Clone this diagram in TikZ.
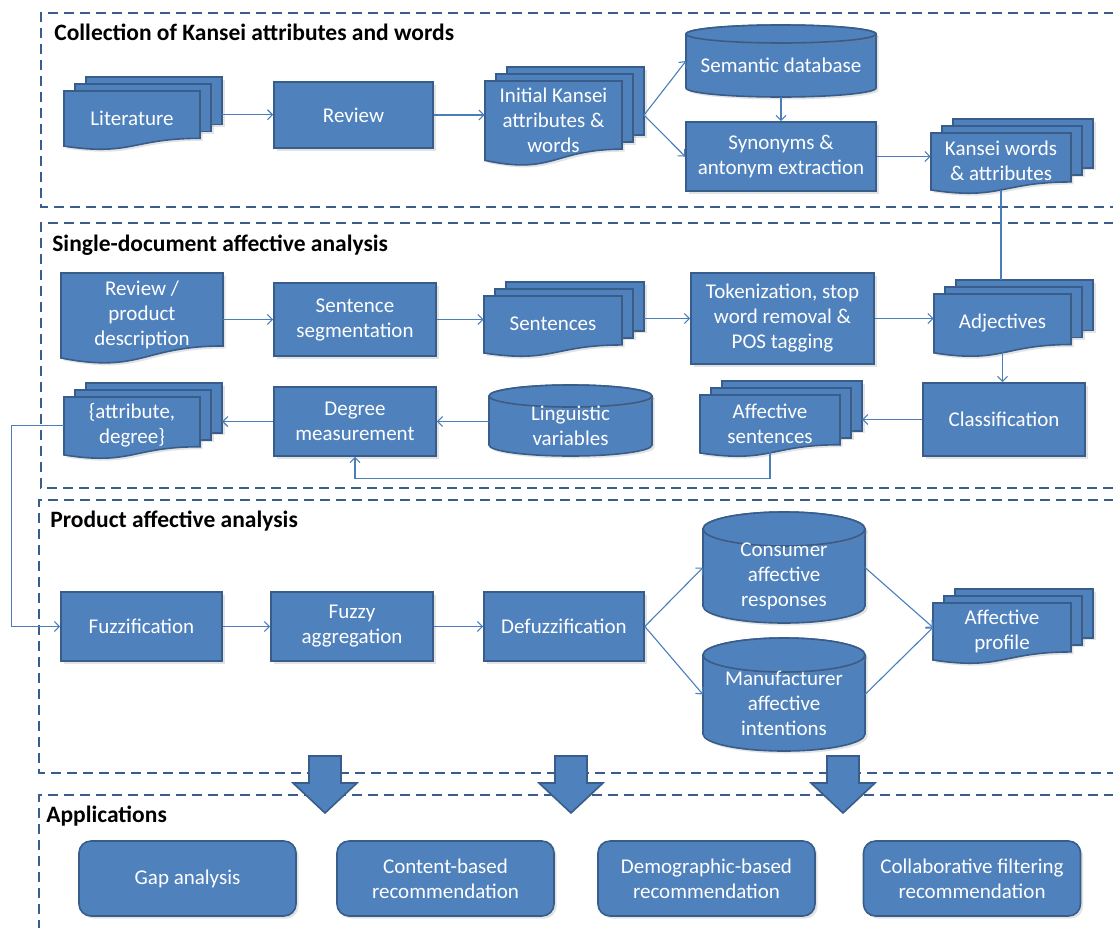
\documentclass[tikz,border=0pt]{standalone}
\usepackage{fontspec}
\setmainfont{Carlito}
\usetikzlibrary{arrows.meta, shadows}
\definecolor{boxblue}{HTML}{4F81BD}
\definecolor{boxline}{HTML}{385D8A}
\definecolor{linkblue}{HTML}{4A7EBB}
\definecolor{framecol}{HTML}{3A5E8C}
\newcommand{\boxtxt}{\fontsize{21}{25}\selectfont}
\newcommand{\headtxt}{\fontsize{23.5}{28}\selectfont\bfseries}
\tikzset{every picture/.style={line width=0.75pt}}
\tikzset{
  softshadow/.style={drop shadow={opacity=0.22, shadow xshift=2.5pt, shadow yshift=-2.5pt}},
  procbox/.style={rectangle, draw=boxline, line width=1.6pt, fill=boxblue, text=white, font=\boxtxt, align=center, inner sep=2pt, softshadow},
  appbox/.style={procbox, rounded corners=12pt, minimum width=217, minimum height=75},
  docline/.style={draw=boxline, line width=1.6pt, fill=boxblue, softshadow},
  doctext/.style={text=white, font=\boxtxt, align=center, inner sep=0pt},
  link/.style={draw=linkblue, line width=1.1pt, -{Straight Barb[length=5pt,width=10pt]}},
  plainlink/.style={draw=linkblue, line width=1.1pt},
  frame/.style={draw=framecol, line width=2.4pt, dash pattern=on 10pt off 6pt},
  title/.style={anchor=base west, font=\headtxt, text=black, inner sep=0pt},
  bigarrow/.style={draw=boxline, line width=1.6pt, fill=boxblue, line join=miter}
}
% one page with a wavy foot: left, top, width, height
\newcommand{\wavedoc}[4]{%
  \draw[docline] (#1,#2) -- (#1+#3,#2) -- (#1+#3,#2+0.802*#4)
    .. controls (#1+0.5*#3,#2+0.802*#4) and (#1+0.5*#3,#2+1.107*#4) .. (#1,#2+0.934*#4) -- cycle;}
% name, left, top, width, height, text
\newcommand{\docnode}[6]{%
  \wavedoc{#2}{#3}{#4}{#5}
  \node[doctext, minimum width=#4, minimum height=0.92*#5] (#1) at (#2+0.5*#4,#3+0.46*#5) {#6};}
% stack of three pages: name, left, top, width, height, text
\newcommand{\stackdoc}[6]{%
  \foreach \k in {2,1} {\draw[docline] (#2+11*\k,#3-7*\k) rectangle ++(#4,0.802*#5);}
  \wavedoc{#2}{#3}{#4}{#5}
  \node[doctext, minimum width=#4, minimum height=0.92*#5] (#1) at (#2+0.5*#4,#3+0.46*#5) {#6};
  \coordinate (#1-in) at (#2,#3+0.401*#5);
  \coordinate (#1-out) at (#2+#4+22,#3+0.401*#5);
  \coordinate (#1-top) at (#2+0.5*#4+22,#3-14);}
% database: name, left, top, width, height, cap radius, text
\newcommand{\dbnode}[7]{%
  \draw[docline] (#2,#3+#6) -- (#2,#3+#5-#6)
    arc[start angle=180, end angle=0, x radius=0.5*#4, y radius=#6] -- (#2+#4,#3+#6)
    arc[start angle=0, end angle=-180, x radius=0.5*#4, y radius=#6] -- cycle;
  \draw[docline, drop shadow={opacity=0}] (#2+0.5*#4,#3+#6) ellipse [x radius=0.5*#4, y radius=#6];
  \node[doctext, minimum width=#4, minimum height=#5-#6] (#1) at (#2+0.5*#4,#3+0.5*#5+0.5*#6) {#7};
  \coordinate (#1-w) at (#2,#3+0.5*#5);
  \coordinate (#1-e) at (#2+#4,#3+0.5*#5);}

\begin{document}
\begin{tikzpicture}[x=1pt,y=1pt,yscale=-1,xscale=1]
    \fill[white] (0,0) rectangle (1113,927);
    \clip (0,0) rectangle (1113,927);
    % frames
    \draw[frame] (1130,13) -- (41,13) -- (41,207) -- (1130,207);
    \draw[frame] (1130,223) -- (41,223) -- (41,488) -- (1130,488);
    \draw[frame] (1130,500) -- (39,500) -- (39,773) -- (1130,773);
    \draw[frame] (1130,795) -- (39,795) -- (39,940);
    \node[title] (head1) at (54,40) {Collection of Kansei attributes and words};
    \node[title] (head2) at (52,251) {Single-document affective analysis};
    \node[title] (head3) at (50,527) {Product affective analysis};
    \node[title] (head4) at (46,822) {Applications};
    % collection
    \stackdoc{lit}{64}{91}{136}{59}{Literature}
    \node[procbox, minimum width=159, minimum height=66] (rev) at (353.5,115) {Review};
    \stackdoc{init}{485}{81}{137}{85}{Initial Kansei\\attributes \&\\words}
    \dbnode{sem}{686}{25}{190}{72}{9}{Semantic database}
    \node[procbox, minimum width=190, minimum height=69] (syn) at (781,156.5) {Synonyms \&\\antonym extraction};
    \stackdoc{kw}{931}{133}{140}{61}{Kansei words\\\& attributes}
    % single document
    \docnode{desc}{61}{273}{162}{91}{Review /\\product\\description}
    \node[procbox, minimum width=162, minimum height=73] (seg) at (355,319.5) {Sentence\\segmentation};
    \stackdoc{sent}{484}{296}{138}{61}{Sentences}
    \node[procbox, minimum width=183, minimum height=91] (tok) at (782.5,318.5) {Tokenization, stop\\word removal \&\\POS tagging};
    \stackdoc{adj}{934}{294}{137}{63}{Adjectives}
    \stackdoc{attdeg}{64}{397}{136}{62}{\{attribute,\\degree\}}
    \node[procbox, minimum width=162, minimum height=69] (deg) at (355,421.5) {Degree\\measurement};
    \dbnode{ling}{489}{385}{163}{71}{11}{Linguistic\\variables}
    \stackdoc{affs}{700}{395}{140}{62}{Affective\\sentences}
    \node[procbox, minimum width=162, minimum height=73] (cls) at (1004,419.5) {Classification};
    % product
    \node[procbox, minimum width=161, minimum height=69] (fuzz) at (141.5,626.5) {Fuzzification};
    \node[procbox, minimum width=162, minimum height=69] (agg) at (352,626.5) {Fuzzy\\aggregation};
    \node[procbox, minimum width=160, minimum height=69] (defuzz) at (564,626.5) {Defuzzification};
    \dbnode{cons}{703}{512}{162}{111}{17}{Consumer\\affective\\responses}
    \dbnode{manu}{703}{638}{162}{113}{17}{Manufacturer\\affective\\intentions}
    \stackdoc{prof}{933}{603}{138}{61}{Affective\\profile}
    % applications
    \node[appbox] (gap) at (187.5,878.5) {Gap analysis};
    \node[appbox] (cbr) at (445.5,878.5) {Content-based\\recommendation};
    \node[appbox] (dbr) at (706.5,878.5) {Demographic-based\\recommendation};
    \node[appbox] (cfr) at (972,878.5) {Collaborative filtering\\recommendation};
    \foreach \cx in {325,571,843}
      \draw[bigarrow] (\cx-16,756) -- (\cx+16,756) -- (\cx+16,783) -- (\cx+32,783) -- (\cx,813) -- (\cx-32,783) -- (\cx-16,783) -- cycle;
    % connectors
    \draw[link] (lit-out) -- (lit-out -| rev.west);
    \draw[link] (rev.east) -- (rev.east -| init.west);
    \draw[link] (init-out) -- (sem-w);
    \draw[link] (init-out) -- (syn.west);
    \draw[link] (sem.south) -- (syn.north);
    \draw[link] (syn.east) -- (syn.east -| kw.west);
    \draw[plainlink] (kw.south) -- (kw.south |- adj-top);
    \draw[link] (desc.east |- seg.west) -- (seg.west);
    \draw[link] (seg.east) -- (seg.east -| sent.west);
    \draw[link] (sent-out |- tok.west) -- (tok.west);
    \draw[link] (tok.east) -- (tok.east -| adj.west);
    \draw[link] (adj.south) -- (adj.south |- cls.north);
    \draw[link] (cls.west) -- (cls.west -| affs-out);
    \draw[link] (ling.west |- deg.east) -- (deg.east);
    \draw[link] (deg.west) -- (deg.west -| attdeg-out);
    \draw[link] (affs.south) -- ++(0,26) -| (deg.south);
    \draw[link] (attdeg.west) -- ++(-52,0) |- (fuzz.west);
    \draw[link] (fuzz.east) -- (agg.west);
    \draw[link] (agg.east) -- (defuzz.west);
    \draw[link] (defuzz.east) -- (cons-w);
    \draw[link] (defuzz.east) -- (manu-w);
    \draw[link] (cons-e) -- (prof-in);
    \draw[link] (manu-e) -- (prof-in);
\end{tikzpicture}
\end{document}
